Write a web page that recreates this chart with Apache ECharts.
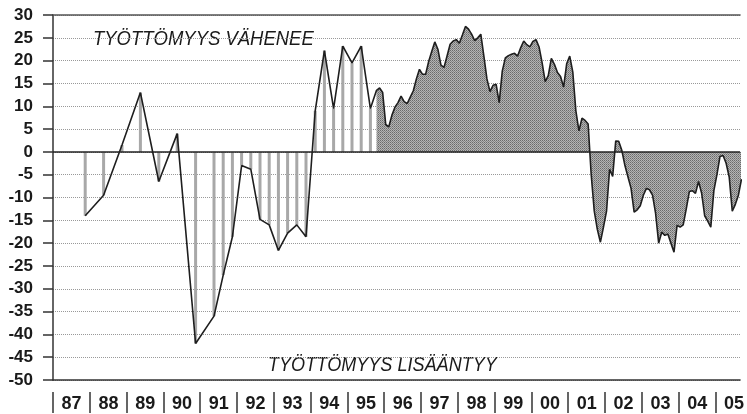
<!DOCTYPE html>
<html>
<head>
<meta charset="utf-8">
<script src="https://cdn.jsdelivr.net/npm/echarts@6/dist/echarts.min.js"></script>
<style>
  html, body { margin: 0; padding: 0; background: #fff; }
  #chart { width: 747px; height: 414px; }
</style>
</head>
<body>
<div id="chart"></div>
<script>
// year labels along the bottom
var yearLabels = ['87', '88', '89', '90', '91', '92', '93', '94', '95', '96',
                  '97', '98', '99', '00', '01', '02', '03', '04', '05'];

// survey points until 1995 (half-yearly, later quarterly), drawn as hatched lines
var quarterPeriods = ['87Q4', '88Q2', '88Q4', '89Q2', '89Q4', '90Q2', '90Q4', '91Q2', '91Q3', '91Q4',
                      '92Q1', '92Q2', '92Q3', '92Q4', '93Q1', '93Q2', '93Q3', '93Q4',
                      '94Q1', '94Q2', '94Q3', '94Q4', '95Q1', '95Q2', '95Q3'];
var quarterValues = [-14, -9.5, 1.5, 13, -6.5, 4, -42, -36, -27, -18.6,
                     -3, -3.8, -14.8, -16, -21.6, -17.8, -16, -18.6,
                     9, 22.2, 9.5, 23.2, 19.5, 23.2, 9.5];

// monthly balance figures from October 1995, drawn as a filled area
var monthStart = [1995, 10];
var monthlyValues = [
  13.5, 14, 13, 6, 5.5, 8, 9.8, 10.8, 12.2, 11,
  10.6, 12, 13.4, 16, 18.1, 17, 17, 19.8, 22, 24.1,
  22.5, 19, 18.5, 21, 23.6, 24.3, 24.6, 23.8, 25.6, 27.5,
  26.9, 25.8, 24.4, 25, 25.8, 21, 16, 13.2, 14.6, 14.8,
  10.8, 17.7, 20.6, 21.1, 21.4, 21.6, 21, 22.8, 24.3, 23.5,
  23, 24.2, 24.6, 23, 19.5, 15.4, 16.7, 20.5, 19.2, 17.4,
  16.5, 14.2, 19.3, 21, 17.5, 9, 4.6, 7.4, 6.9, 6.1,
  -5, -13, -17, -19.8, -16.5, -13, -3.8, -5.4, 2.4, 2.3,
  0.3, -3, -5.5, -8, -13.2, -12.7, -11.8, -9.5, -8, -8.3,
  -9.5, -13.5, -20, -17.6, -18.3, -18, -20, -22, -16.1, -16.5,
  -16, -12.5, -8.7, -8.5, -9.1, -6.5, -9, -14, -15.2, -16.5,
  -8.5, -5, -1, -0.8, -2.5, -5.5, -13, -11.5, -9.5, -6
];

var textUp = 'TYÖTTÖMYYS VÄHENEE';
var textDown = 'TYÖTTÖMYYS LISÄÄNTYY';

var X_MIN = 1987;
var X_MAX = 2005.67;   // the picture is cut off inside 2005

function quarterToYear(p) {
  var yy = parseInt(p.slice(0, 2), 10);
  var q = parseInt(p.slice(3), 10);
  return 1900 + yy + (q - 0.5) / 4;
}
function monthToYear(i) {
  var m = monthStart[1] - 1 + i;
  return monthStart[0] + (m + 0.5) / 12;
}

var quarterData = quarterPeriods.map(function (p, i) { return [quarterToYear(p), quarterValues[i]]; });
var monthlyData = monthlyValues.map(function (v, i) { return [monthToYear(i), v]; });
var lineData = quarterData.concat(monthlyData);

// stipple pattern for the filled area
var pat = document.createElement('canvas');
pat.width = 2; pat.height = 2;
var pctx = pat.getContext('2d');
pctx.fillStyle = '#b4b4b4'; pctx.fillRect(0, 0, 2, 2);
pctx.fillStyle = '#6a6a6a'; pctx.fillRect(0, 0, 1, 1);
pctx.fillStyle = '#858585'; pctx.fillRect(1, 1, 1, 1);

var FONT = '"Liberation Sans", Arial, sans-serif';
var yearWidth = (747 - 53) / (X_MAX - X_MIN);

var myChart = echarts.init(document.getElementById('chart'));
var option = {
  animation: false,
  backgroundColor: '#fff',
  grid: { left: 53, right: 0, top: 15, bottom: 34 },
  xAxis: [
    {
      type: 'value', min: X_MIN, max: X_MAX,
      axisLine: { onZero: false, lineStyle: { color: '#333', width: 1.5 } },
      axisTick: { show: false }, axisLabel: { show: false }, splitLine: { show: false }
    },
    {
      // year separators and labels (label shifted to the middle of its year)
      type: 'value', min: X_MIN, max: X_MAX, interval: 1, position: 'bottom', offset: 12,
      axisLine: { show: false, onZero: false },
      axisTick: { show: true, length: 21, lineStyle: { color: '#333', width: 1.5 } },
      axisLabel: {
        margin: 3, fontFamily: FONT, fontWeight: 'bold', fontSize: 18, color: '#1a1a1a',
        showMaxLabel: false, showMinLabel: true,
        padding: [0, 0, 0, yearWidth],
        formatter: function (v) {
          var i = Math.round(v) - X_MIN;
          return Math.abs(v - Math.round(v)) < 1e-6 && yearLabels[i] ? yearLabels[i] : '';
        }
      },
      splitLine: { show: false }
    },
    {
      type: 'value', min: X_MIN, max: X_MAX, position: 'top',
      axisLine: { onZero: false, lineStyle: { color: '#555', width: 1.5 } },
      axisTick: { show: false }, axisLabel: { show: false }, splitLine: { show: false }
    }
  ],
  yAxis: {
    type: 'value', min: -50, max: 30, interval: 5,
    axisLine: { show: true, lineStyle: { color: '#333', width: 1.5 } },
    axisTick: { show: true, length: 10, lineStyle: { color: '#333', width: 1.5 } },
    axisLabel: { margin: 20, fontFamily: FONT, fontWeight: 'bold', fontSize: 17, color: '#1a1a1a' },
    splitLine: { show: true, lineStyle: { type: 'dotted', color: '#999', width: 1 } }
  },
  graphic: [
    { type: 'text', x: 93, y: 29, scaleX: 0.88, style: { text: textUp, font: 'italic 21px ' + FONT, fill: '#1a1a1a' } },
    { type: 'text', x: 268, y: 355, scaleX: 0.86, style: { text: textDown, font: 'italic 21px ' + FONT, fill: '#1a1a1a' } }
  ],
  series: [
    {
      type: 'line', xAxisIndex: 0, data: monthlyData, symbol: 'none',
      lineStyle: { width: 0 },
      areaStyle: { color: { image: pat, repeat: 'repeat' }, opacity: 1 },
      z: 2
    },
    {
      type: 'bar', xAxisIndex: 0, data: quarterData, barWidth: 3,
      itemStyle: { color: '#a8a8a8' }, z: 2
    },
    {
      type: 'line', xAxisIndex: 0, data: lineData, symbol: 'none',
      lineStyle: { color: '#1e1e1e', width: 1.6 },
      markLine: {
        silent: true, symbol: ['none', 'none'], label: { show: false },
        lineStyle: { type: 'solid', color: '#222', width: 1.5 },
        data: [{ yAxis: 0 }]
      },
      z: 4
    }
  ]
};
myChart.setOption(option);
</script>
</body>
</html>
